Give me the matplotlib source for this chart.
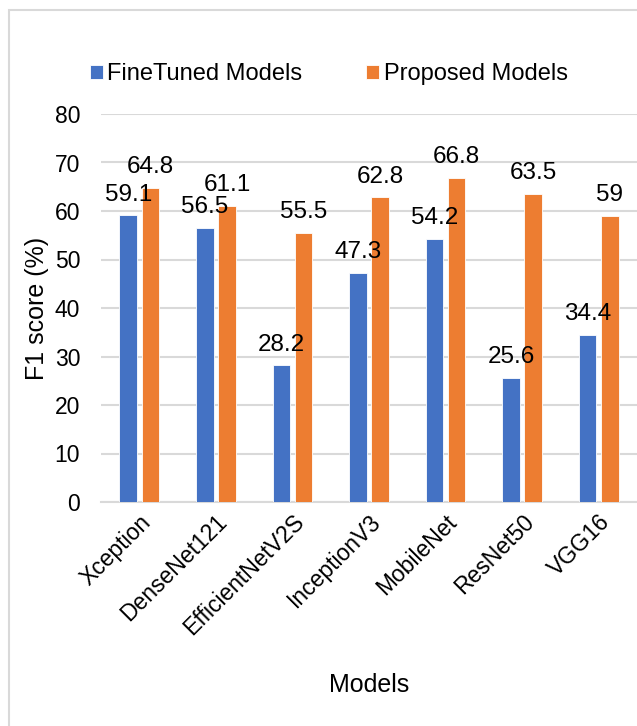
import matplotlib.pyplot as plt
from matplotlib.patches import Rectangle
import numpy as np

models = ['Xception', 'DenseNet121', 'EfficientNetV2S', 'InceptionV3',
          'MobileNet', 'ResNet50', 'VGG16']
finetuned = [59.1, 56.5, 28.2, 47.3, 54.2, 25.6, 34.4]
proposed = [64.8, 61.1, 55.5, 62.8, 66.8, 63.5, 59]
finetuned_labels = ['59.1', '56.5', '28.2', '47.3', '54.2', '25.6', '34.4']
proposed_labels = ['64.8', '61.1', '55.5', '62.8', '66.8', '63.5', '59']

plt.rcParams['font.family'] = ['Liberation Sans', 'DejaVu Sans']

blue = '#4472C4'
orange = '#ED7D31'
grid_c = '#d9d9d9'

fig = plt.figure(figsize=(6.37, 7.26), dpi=100)
ax = fig.add_axes([101 / 637, (726 - 502) / 726, 536 / 637, (502 - 114) / 726])

x = np.arange(len(models))
w = 0.23
off = 0.145
b1 = ax.bar(x - off, finetuned, w, color=blue, edgecolor='white', linewidth=0.6,
            label='FineTuned Models', zorder=3)
b2 = ax.bar(x + off, proposed, w, color=orange, edgecolor='white', linewidth=0.6,
            label='Proposed Models', zorder=3)
ax.bar_label(b1, labels=finetuned_labels, padding=7, fontsize=17.5, zorder=4)
ax.bar_label(b2, labels=proposed_labels, padding=7, fontsize=17.5, zorder=4)

ax.set_xlim(-0.5, len(models) - 0.5)
ax.set_ylim(0, 80)
ax.set_yticks(range(0, 81, 10))
ax.yaxis.grid(True, color=grid_c, linewidth=1.5, zorder=0)
ax.set_axisbelow(True)
for s in ['top', 'right', 'left']:
    ax.spines[s].set_visible(False)
ax.spines['bottom'].set_color(grid_c)
ax.spines['bottom'].set_linewidth(1.5)
ax.tick_params(axis='y', length=0, labelsize=16.5, pad=15)
ax.tick_params(axis='x', length=0, labelsize=16.5, pad=6)
ax.set_xticks(x)
ax.set_xticklabels(models, rotation=45, ha='right', rotation_mode='anchor')

ax.set_xlabel('Models', fontsize=18, labelpad=24)
ax.set_ylabel('F1 score (%)', fontsize=18, labelpad=4)

ax.legend(loc='lower center', bbox_to_anchor=(0.425, 1.02), ncol=2, frameon=False,
          fontsize=17, handlelength=0.55, handleheight=0.55, handletextpad=0.2,
          columnspacing=2.7)

# light chart-area border (left and top visible in the original crop)
fig.add_artist(Rectangle((9 / 637, -0.1), 1.2, 1.1 - 10 / 726,
                         transform=fig.transFigure, fill=False,
                         edgecolor=grid_c, linewidth=1.5))

fig.savefig('out.png', dpi=100)
